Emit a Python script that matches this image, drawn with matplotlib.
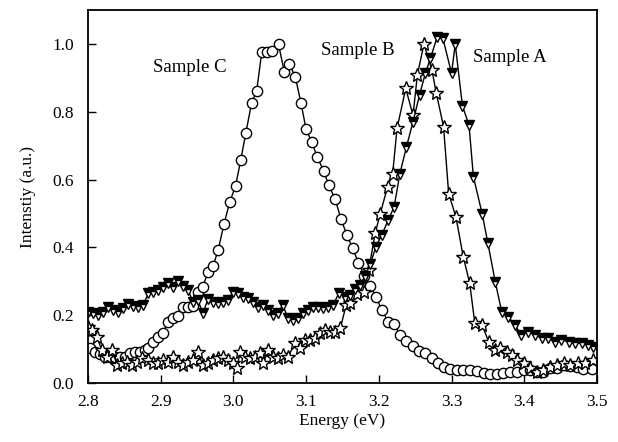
import matplotlib

matplotlib.use("Agg")

import matplotlib.pyplot as plt

plt.rcParams["font.family"] = ["Liberation Serif", "DejaVu Serif"]
plt.rcParams["mathtext.fontset"] = "stix"

# Sample C (circles)
c_x = [2.803, 2.810, 2.817, 2.823, 2.830, 2.837, 2.844, 2.851, 2.858, 2.865,
       2.872, 2.878, 2.883, 2.889, 2.896, 2.903, 2.910, 2.917, 2.924, 2.931,
       2.938, 2.944, 2.951, 2.958, 2.965, 2.972, 2.979, 2.987, 2.995, 3.003,
       3.010, 3.017, 3.025, 3.032, 3.039, 3.046, 3.053, 3.062, 3.070, 3.077,
       3.085, 3.093, 3.100, 3.108, 3.115, 3.124, 3.131, 3.140, 3.148, 3.156,
       3.164, 3.172, 3.180, 3.188, 3.196, 3.204, 3.213, 3.221, 3.229, 3.237,
       3.247, 3.255, 3.263, 3.273, 3.281, 3.290, 3.298, 3.307, 3.316, 3.325,
       3.335, 3.344, 3.353, 3.362, 3.371, 3.380, 3.390, 3.399, 3.408, 3.417,
       3.426, 3.435, 3.445, 3.454, 3.463, 3.472, 3.481, 3.493]
c_y = [0.103, 0.092, 0.086, 0.078, 0.076, 0.076, 0.076, 0.078, 0.088, 0.091,
       0.092, 0.097, 0.103, 0.122, 0.136, 0.147, 0.181, 0.192, 0.198, 0.225,
       0.225, 0.227, 0.269, 0.284, 0.328, 0.345, 0.392, 0.469, 0.534, 0.582,
       0.657, 0.737, 0.826, 0.862, 0.977, 0.977, 0.980, 0.999, 0.918, 0.940,
       0.904, 0.825, 0.748, 0.710, 0.668, 0.626, 0.584, 0.542, 0.483, 0.437,
       0.397, 0.355, 0.316, 0.286, 0.255, 0.215, 0.181, 0.174, 0.142, 0.125,
       0.110, 0.095, 0.089, 0.073, 0.058, 0.046, 0.040, 0.038, 0.038, 0.038,
       0.036, 0.030, 0.028, 0.028, 0.030, 0.033, 0.033, 0.038, 0.038, 0.033,
       0.033, 0.043, 0.045, 0.053, 0.050, 0.048, 0.040, 0.040]

# Sample B (stars)
b_x = [2.800, 2.806, 2.812, 2.819, 2.826, 2.833, 2.840, 2.847, 2.854, 2.861,
       2.867, 2.874, 2.883, 2.889, 2.896, 2.903, 2.910, 2.917, 2.924, 2.931,
       2.938, 2.944, 2.951, 2.958, 2.965, 2.972, 2.979, 2.986, 2.993, 2.999,
       3.005, 3.009, 3.016, 3.023, 3.030, 3.037, 3.041, 3.048, 3.054, 3.061,
       3.068, 3.075, 3.085, 3.092, 3.098, 3.105, 3.112, 3.119, 3.126, 3.133,
       3.140, 3.147, 3.155, 3.161, 3.170, 3.179, 3.186, 3.195, 3.202, 3.212,
       3.219, 3.225, 3.237, 3.247, 3.253, 3.262, 3.273, 3.279, 3.289, 3.296,
       3.306, 3.316, 3.325, 3.332, 3.342, 3.351, 3.360, 3.367, 3.376, 3.383,
       3.390, 3.399, 3.408, 3.417, 3.426, 3.435, 3.445, 3.454, 3.463, 3.474,
       3.484, 3.495]
b_y = [0.166, 0.156, 0.137, 0.097, 0.078, 0.097, 0.053, 0.058, 0.063, 0.053,
       0.063, 0.073, 0.068, 0.058, 0.058, 0.068, 0.063, 0.078, 0.063, 0.053,
       0.063, 0.068, 0.092, 0.053, 0.058, 0.068, 0.073, 0.078, 0.068, 0.058,
       0.043, 0.092, 0.078, 0.073, 0.078, 0.088, 0.058, 0.097, 0.078, 0.073,
       0.083, 0.078, 0.117, 0.103, 0.127, 0.127, 0.132, 0.147, 0.156, 0.151,
       0.149, 0.161, 0.230, 0.235, 0.264, 0.269, 0.333, 0.442, 0.500, 0.579,
       0.618, 0.751, 0.869, 0.790, 0.909, 1.000, 0.923, 0.855, 0.756, 0.559,
       0.490, 0.373, 0.294, 0.176, 0.171, 0.122, 0.097, 0.103, 0.092, 0.083,
       0.068, 0.058, 0.043, 0.033, 0.038, 0.048, 0.053, 0.058, 0.053, 0.058,
       0.058, 0.068]

# Sample A (half-filled down triangles)
a_x = [2.800, 2.807, 2.814, 2.821, 2.828, 2.834, 2.841, 2.848, 2.855, 2.862,
       2.869, 2.876, 2.883, 2.889, 2.896, 2.903, 2.910, 2.917, 2.924, 2.931,
       2.938, 2.944, 2.951, 2.958, 2.965, 2.972, 2.979, 2.986, 2.993, 2.999,
       3.006, 3.013, 3.020, 3.027, 3.034, 3.041, 3.048, 3.054, 3.061, 3.068,
       3.075, 3.082, 3.089, 3.096, 3.103, 3.109, 3.116, 3.123, 3.130, 3.137,
       3.145, 3.154, 3.160, 3.167, 3.174, 3.181, 3.188, 3.196, 3.204, 3.213,
       3.221, 3.229, 3.238, 3.247, 3.256, 3.264, 3.271, 3.280, 3.288, 3.300,
       3.305, 3.315, 3.324, 3.330, 3.342, 3.350, 3.360, 3.369, 3.378, 3.387,
       3.396, 3.405, 3.415, 3.424, 3.433, 3.442, 3.451, 3.461, 3.470, 3.479,
       3.488, 3.495]
a_y = [0.210, 0.206, 0.200, 0.210, 0.225, 0.215, 0.210, 0.220, 0.233, 0.227,
       0.225, 0.230, 0.265, 0.269, 0.274, 0.284, 0.294, 0.284, 0.302, 0.286,
       0.274, 0.240, 0.245, 0.206, 0.247, 0.240, 0.235, 0.240, 0.245, 0.269,
       0.265, 0.255, 0.250, 0.240, 0.225, 0.230, 0.215, 0.200, 0.206, 0.230,
       0.191, 0.186, 0.191, 0.206, 0.215, 0.225, 0.223, 0.220, 0.225, 0.230,
       0.265, 0.255, 0.260, 0.276, 0.289, 0.315, 0.350, 0.402, 0.437, 0.481,
       0.520, 0.618, 0.697, 0.771, 0.850, 0.914, 0.958, 1.020, 1.017, 0.914,
       1.000, 0.817, 0.761, 0.609, 0.500, 0.412, 0.299, 0.210, 0.196, 0.171,
       0.142, 0.151, 0.142, 0.132, 0.132, 0.122, 0.127, 0.122, 0.117, 0.117,
       0.112, 0.107]

fig = plt.figure(figsize=(6.18, 4.42), dpi=100)
ax = fig.add_axes([0.1424, 0.1335, 0.8236, 0.8435])

ax.plot(c_x, c_y, color="black", lw=1.0, marker="o", ms=7.4,
        mfc="white", mec="black", mew=1.0)
ax.plot(b_x, b_y, color="black", lw=1.0, marker="*", ms=10,
        mfc="white", mec="black", mew=1.0)
ax.plot(a_x, a_y, color="black", lw=1.0, marker="v", ms=7.8,
        fillstyle="top", mfc="black", mfcalt="white", mec="black", mew=1.0)

ax.text(2.940, 0.932, "Sample C", fontsize=13.5, ha="center", va="center")
ax.text(3.171, 0.982, "Sample B", fontsize=13.5, ha="center", va="center")
ax.text(3.380, 0.959, "Sample A", fontsize=13.5, ha="center", va="center")

ax.set_xlim(2.8, 3.5)
ax.set_ylim(0.0, 1.1)
ax.set_xticks([2.8, 2.9, 3.0, 3.1, 3.2, 3.3, 3.4, 3.5])
ax.set_yticks([0.0, 0.2, 0.4, 0.6, 0.8, 1.0])
ax.xaxis.set_major_formatter(plt.FormatStrFormatter("%.1f"))
ax.yaxis.set_major_formatter(plt.FormatStrFormatter("%.1f"))
ax.tick_params(direction="in", length=6, width=1.0, labelsize=12.5)
ax.tick_params(axis="x", pad=8)
ax.tick_params(axis="y", pad=10)
for s in ax.spines.values():
    s.set_linewidth(1.3)

ax.set_xlabel("Energy (eV)", fontsize=12.5, labelpad=2)
ax.set_ylabel("Intenstiy (a.u.)", fontsize=12.5, labelpad=12)

fig.savefig("out.png", dpi=100)
